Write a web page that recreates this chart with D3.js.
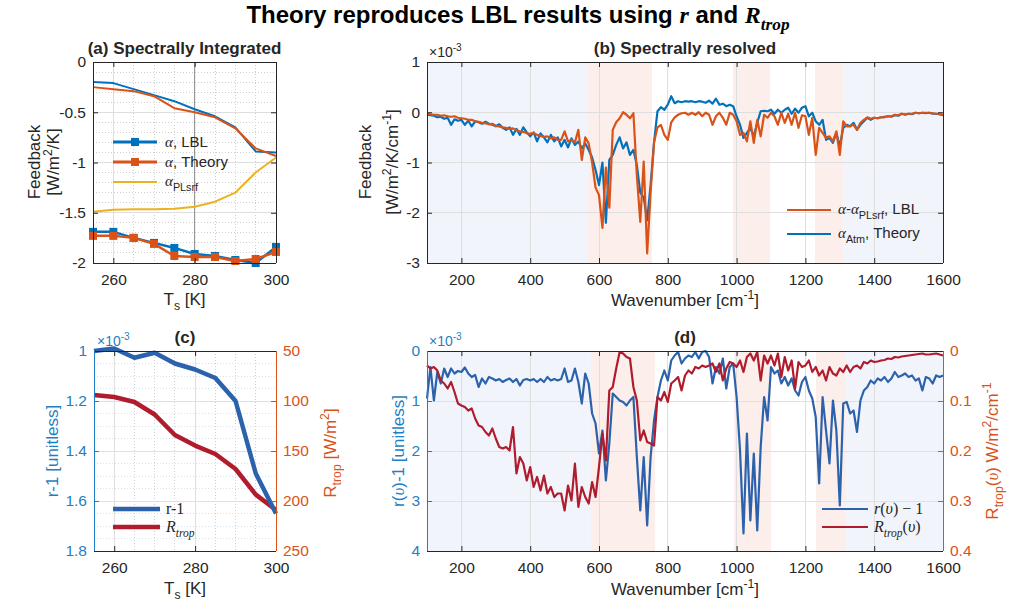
<!DOCTYPE html>
<html>
<head>
<meta charset="utf-8">
<script src="https://cdn.jsdelivr.net/npm/d3@7"></script>
<style>
body { margin: 0; background: #fff; }
svg { font-family: "Liberation Sans", Arial, Helvetica, sans-serif; }
</style>
</head>
<body>
<svg id="fig" width="1011" height="610"></svg>
<script>
// ---- panel (a)/(c): surface temperature sweep
const tsK = [255, 260, 265, 270, 275, 280, 285, 290, 295, 300];
const alphaLBL = [-1.69, -1.69, -1.75, -1.80, -1.85, -1.91, -1.93, -1.97, -2.00, -1.84];
const alphaTheory = [-1.73, -1.73, -1.75, -1.81, -1.93, -1.94, -1.94, -1.98, -1.96, -1.89];
const alphaAtmLBL = [-0.20, -0.21, -0.27, -0.33, -0.39, -0.47, -0.54, -0.65, -0.89, -0.90];
const alphaAtmTheory = [-0.25, -0.27, -0.29, -0.34, -0.46, -0.50, -0.55, -0.66, -0.86, -0.935];
const alphaPLsrf = [-1.49, -1.47, -1.465, -1.465, -1.46, -1.44, -1.39, -1.30, -1.10, -0.95];
const rMinus1 = [1.00, 0.99, 1.027, 1.007, 1.05, 1.074, 1.108, 1.20, 1.49, 1.65]; // x1e-3
const rTrop = [94, 96, 101, 113.5, 134, 144.6, 153, 168, 193.6, 209];           // W/m2

// ---- panel (b)/(d): spectrally resolved, 100..1600 cm-1 every 10
const wavenumber = d3.range(100, 1601, 10);
const specAtmTheory = [ // x1e-3 W/m2/K/cm-1
  -0.05, -0.06, -0.07, -0.10, -0.09, -0.13, -0.11, -0.25, -0.14, -0.17,
  -0.15, -0.25, -0.17, -0.28, -0.18, -0.20, -0.23, -0.19, -0.23, -0.25,
  -0.28, -0.24, -0.31, -0.35, -0.30, -0.45, -0.33, -0.45, -0.30, -0.40,
  -0.48, -0.40, -0.58, -0.42, -0.50, -0.60, -0.45, -0.58, -0.50, -0.68,
  -0.55, -0.70, -0.52, -0.65, -0.58, -0.72, -0.62, -0.75, -0.90, -1.15,
  -1.45, -1.00, -2.20, -0.95, -0.85, -0.65, -0.50, -0.72, -0.60, -0.85,
  -0.75, -1.05, -1.60, -1.70, -2.15, -1.45, -0.60, 0.02, 0.10, 0.05,
  0.15, 0.32, 0.18, 0.22, 0.20, 0.22, 0.21, 0.22, 0.20, 0.22,
  0.21, 0.19, 0.23, 0.17, 0.27, 0.15, 0.17, 0.12, 0.15, 0.12,
  -0.08, -0.25, -0.51, -0.41, -0.31, -0.48, -0.21, 0.02, 0.03, 0.02,
  0.05, -0.03, 0.05, -0.01, 0.05, 0.09, -0.03, 0.07, -0.01, 0.09,
  0.12, -0.08, -0.01, -0.18, -0.25, -0.15, -0.55, -0.51, -0.61, -0.41,
  -0.68, -0.31, -0.25, -0.28, -0.21, -0.35, -0.25, -0.18, -0.11, -0.15,
  -0.11, -0.12, -0.10, -0.09, -0.08, -0.09, -0.06, -0.07, -0.03, -0.05,
  -0.03, -0.04, -0.01, -0.02, -0.01, -0.02, -0.01, -0.03, -0.03, -0.04,
  -0.06
];
const specLBL = [ // alpha - alpha_PLsrf, x1e-3
  -0.03, -0.04, -0.05, -0.05, -0.07, -0.06, -0.08, -0.09, -0.08, -0.11,
  -0.12, -0.13, -0.15, -0.15, -0.18, -0.19, -0.21, -0.22, -0.24, -0.23,
  -0.27, -0.28, -0.30, -0.31, -0.33, -0.32, -0.36, -0.38, -0.39, -0.42,
  -0.43, -0.41, -0.45, -0.47, -0.49, -0.48, -0.52, -0.50, -0.55, -0.55,
  -0.38, -0.58, -0.55, -0.60, -0.35, -0.95, -0.50, -0.62, -1.00, -1.50,
  -1.65, -2.30, -1.10, -1.90, -0.35, -0.20, -0.12, 0.00, -0.05, -0.12,
  -0.02, -1.25, -2.18, -0.98, -2.81, -1.60, -0.60, -0.30, -0.25, -0.45,
  -0.55, -0.20, -0.10, -0.05, -0.02, -0.01, -0.05, -0.01, -0.05, 0.00,
  -0.08, -0.01, -0.05, -0.25, -0.08, -0.01, -0.11, -0.25, -0.01, -0.05,
  -0.18, -0.45, -0.41, -0.58, -0.18, -0.61, -0.15, -0.48, -0.05, -0.11,
  -0.01, -0.08, -0.25, -0.01, -0.21, -0.03, -0.25, -0.01, -0.31, -0.06,
  -0.08, -0.45, -0.11, -0.85, -0.31, -0.41, -0.51, -0.48, -0.58, -0.38,
  -0.85, -0.18, -0.28, -0.28, -0.25, -0.35, -0.21, -0.15, -0.10, -0.13,
  -0.11, -0.12, -0.10, -0.10, -0.08, -0.08, -0.05, -0.06, -0.03, -0.04,
  -0.03, -0.03, -0.01, -0.02, -0.01, -0.01, -0.01, -0.02, -0.03, -0.04,
  -0.05
];
const specR = [ // r(v)-1, x1e-3
  0.95, 0.32, 0.99, 0.42, 0.65, 0.35, 0.52, 0.35, 0.45, 0.40,
  0.42, 0.33, 0.45, 0.52, 0.48, 0.72, 0.55, 0.65, 0.52, 0.55,
  0.59, 0.56, 0.62, 0.58, 0.55, 0.62, 0.56, 0.69, 0.58, 0.56,
  0.59, 0.56, 0.62, 0.56, 0.62, 0.52, 0.59, 0.56, 0.59, 0.56,
  0.35, 0.62, 0.59, 0.35, 0.62, 1.05, 0.45, 0.65, 1.25, 1.45,
  2.05, 1.59, 2.59, 1.85, 0.85, 0.92, 0.99, 1.02, 1.09, 0.99,
  0.92, 2.12, 3.19, 2.12, 3.49, 2.12, 1.39, 0.92, 0.59, 0.39,
  0.59, 0.19, 0.09, 0.02, 0.25, 0.15, 0.09, 0.12, 0.02, 0.15,
  0.02, 0.00, 0.12, 0.65, 0.32, 0.45, 0.15, 0.75, 0.32, 0.25,
  0.92, 1.99, 3.65, 1.65, 3.39, 2.05, 3.59, 1.92, 0.92, 1.39,
  0.32, 0.45, 0.39, 0.65, 0.52, 0.69, 0.55, 0.79, 0.89, 0.62,
  0.52, 0.79, 0.95, 1.32, 2.65, 0.92, 1.59, 2.25, 0.99, 1.59,
  3.09, 1.05, 1.02, 1.25, 1.19, 1.62, 0.99, 0.79, 0.72, 0.59,
  0.65, 0.55, 0.59, 0.52, 0.62, 0.55, 0.42, 0.52, 0.49, 0.45,
  0.52, 0.49, 0.59, 0.55, 0.79, 0.52, 0.55, 0.65, 0.49, 0.52,
  0.49
];
const specRtrop = [ // W/m2/cm-1
  0.029, 0.035, 0.032, 0.039, 0.059, 0.065, 0.075, 0.062, 0.082, 0.105,
  0.109, 0.112, 0.119, 0.115, 0.135, 0.149, 0.152, 0.162, 0.169, 0.155,
  0.175, 0.192, 0.195, 0.192, 0.199, 0.152, 0.245, 0.212, 0.225, 0.259,
  0.232, 0.272, 0.252, 0.279, 0.249, 0.285, 0.272, 0.292, 0.285, 0.285,
  0.319, 0.269, 0.299, 0.225, 0.312, 0.272, 0.292, 0.305, 0.262, 0.292,
  0.232, 0.165, 0.219, 0.079, 0.072, 0.035, 0.002, 0.005, 0.012, 0.015,
  0.072, 0.099, 0.179, 0.159, 0.182, 0.185, 0.189, 0.092, 0.099, 0.082,
  0.102, 0.065, 0.059, 0.052, 0.079, 0.049, 0.039, 0.045, 0.032, 0.035,
  0.029, 0.032, 0.029, 0.025, 0.042, 0.025, 0.059, 0.035, 0.022, 0.025,
  0.032, 0.019, 0.042, 0.012, 0.005, 0.019, 0.002, 0.059, 0.009, 0.025,
  0.009, 0.029, 0.005, 0.052, 0.012, 0.039, 0.019, 0.075, 0.022, 0.032,
  0.029, 0.019, 0.042, 0.032, 0.049, 0.039, 0.059, 0.032, 0.045, 0.049,
  0.035, 0.042, 0.029, 0.042, 0.032, 0.029, 0.035, 0.022, 0.025, 0.019,
  0.022, 0.021, 0.019, 0.018, 0.015, 0.016, 0.012, 0.013, 0.011, 0.010,
  0.009, 0.008, 0.007, 0.006, 0.005, 0.007, 0.007, 0.006, 0.005, 0.007,
  0.009
];
// shaded spectral bands [from, to, kind]
const bandsB = [[100, 568, 'win'], [568, 754, 'abs'], [990, 1097, 'abs'], [1228, 1309, 'abs'], [1309, 1600, 'win']];
const bandsD = [[100, 577, 'win'], [577, 763, 'abs'], [993, 1100, 'abs'], [1231, 1318, 'abs'], [1318, 1600, 'win']];

const FONT = '"Liberation Sans", Arial, Helvetica, sans-serif';
const SERIF = '"Liberation Serif", "Times New Roman", serif';
const AX = '#262626';
const GRID = '#dedede';
const MINOR = '#cfcfcf';
const BGRID = '#d3e3f0';
const BLUE = '#0072BD', ORANGE = '#D95319', YELLOW = '#EDB120';
const DBLUE = '#2b62ab', DRED = '#b01c2e';
const LBLUE = '#1f7fc4';
const SHADE = {win: '#f1f5fb', abs: '#fbeeeb'};

const svg = d3.select('#fig');

function rich(text, parts, size)
{
    let shift = 0;
    parts.forEach(p => {
        if (typeof p === 'string') p = {t: p};
        const target = p.sub ? size * 0.3 : p.sup ? -size * 0.42 : 0;
        const ts = text.append('tspan').text(p.t).attr('dy', target - shift);
        shift = target;
        if (p.sub || p.sup) ts.attr('font-size', size * 0.72);
        if (p.m) ts.attr('font-family', SERIF).attr('font-style', 'italic');
        if (p.s) ts.attr('font-family', SERIF);
    });
}

function label(x, y, parts, opt = {})
{
    const size = opt.size || 15;
    const t = svg.append('text').attr('x', x).attr('y', y)
        .attr('font-size', size).attr('fill', opt.color || AX)
        .attr('text-anchor', opt.anchor || 'start')
        .attr('font-weight', opt.bold ? 'bold' : null);
    if (opt.rotate) t.attr('transform', `rotate(-90,${x},${y})`);
    rich(t, parts, size);
    return t;
}

function makeAxes(box)
{
    const g = svg.append('g').attr('transform', `translate(${box.x0},${box.y0})`);
    return {g, w: box.x1 - box.x0, h: box.y1 - box.y0};
}

function grid(g, vals, scale, w, h, vertical, color, dash)
{
    g.append('g').selectAll('line').data(vals).join('line')
        .attr('x1', d => vertical ? scale(d) : 0)
        .attr('x2', d => vertical ? scale(d) : w)
        .attr('y1', d => vertical ? 0 : scale(d))
        .attr('y2', d => vertical ? h : scale(d))
        .attr('stroke', color).attr('stroke-width', 1)
        .attr('stroke-dasharray', dash || null)
        .attr('shape-rendering', 'crispEdges');
}

function styleAxis(a, color)
{
    a.select('.domain').remove();
    a.attr('font-family', FONT).attr('font-size', 15.5);
    a.selectAll('line').attr('stroke', color);
    a.selectAll('text').attr('fill', color);
}

function xAxes(g, x, h, ticks)
{
    g.append('g').attr('transform', `translate(0,${h})`)
        .call(d3.axisBottom(x).tickValues(ticks).tickSize(-5).tickPadding(11).tickFormat(d => String(d)))
        .call(a => styleAxis(a, AX));
    g.append('g')
        .call(d3.axisTop(x).tickValues(ticks).tickSize(-5).tickFormat(''))
        .call(a => styleAxis(a, AX));
}

function yAxis(g, y, w, ticks, color, side, labels = true)
{
    const left = side === 'left';
    const ax = (left ? d3.axisLeft(y) : d3.axisRight(y))
        .tickValues(ticks).tickSize(-5).tickPadding(7)
        .tickFormat(labels ? (d => String(d)) : '');
    g.append('g').attr('transform', `translate(${left ? 0 : w},0)`)
        .call(ax).call(a => styleAxis(a, color));
}

function frame(g, w, h, leftColor, rightColor)
{
    const seg = (x1, y1, x2, y2, c) => g.append('line')
        .attr('x1', x1).attr('y1', y1).attr('x2', x2).attr('y2', y2)
        .attr('stroke', c).attr('stroke-width', 1).attr('shape-rendering', 'crispEdges');
    seg(0, 0, w, 0, AX);
    seg(0, h, w, h, AX);
    seg(0, 0, 0, h, leftColor);
    seg(w, 0, w, h, rightColor);
}

function plotLine(g, xs, ys, x, y, color, width)
{
    g.append('path')
        .datum(ys)
        .attr('fill', 'none')
        .attr('stroke', color)
        .attr('stroke-width', width)
        .attr('stroke-linejoin', 'round')
        .attr('d', d3.line().x((d, i) => x(xs[i])).y(d => y(d)));
}

function legendLine(x1, x2, yy, color, width)
{
    svg.append('line').attr('x1', x1).attr('x2', x2).attr('y1', yy).attr('y2', yy)
        .attr('stroke', color).attr('stroke-width', width);
}

function minorTicks(lo, hi, step, isMajor)
{
    const n = Math.round((hi - lo) / step);
    return d3.range(1, n).map(i => +(lo + i * step).toFixed(4)).filter(v => !isMajor(v));
}

// ------------------------------------------------------------------
function drawPanelA()
{
    const {g, w, h} = makeAxes({x0: 93, x1: 276, y0: 62, y1: 263});
    const x = d3.scaleLinear().domain([255, 300]).range([0, w]);
    const y = d3.scaleLinear().domain([-2, 0]).range([h, 0]);

    grid(g, minorTicks(255, 300, 5, v => v % 20 === 0), x, w, h, true, MINOR, '1,2');
    grid(g, minorTicks(-2, 0, 0.1, v => Math.abs(v * 2 - Math.round(v * 2)) < 1e-6), y, w, h, false, MINOR, '1,2');
    grid(g, [260, 280], x, w, h, true, GRID);
    grid(g, [-0.5, -1, -1.5], y, w, h, false, GRID);
    // reference line at 280 K
    g.append('line').attr('x1', x(280)).attr('x2', x(280)).attr('y1', 0).attr('y2', h)
        .attr('stroke', '#8a8a8a').attr('stroke-width', 1);

    plotLine(g, tsK, alphaPLsrf, x, y, YELLOW, 2);
    plotLine(g, tsK, alphaAtmLBL, x, y, BLUE, 2);
    plotLine(g, tsK, alphaAtmTheory, x, y, ORANGE, 2);
    [[alphaLBL, BLUE], [alphaTheory, ORANGE]].forEach(([vals, c]) => {
        plotLine(g, tsK, vals, x, y, c, 2.5);
        g.append('g').selectAll('rect').data(vals).join('rect')
            .attr('x', (d, i) => x(tsK[i]) - 4).attr('y', d => y(d) - 4)
            .attr('width', 8).attr('height', 8).attr('fill', c);
    });

    xAxes(g, x, h, [260, 280, 300]);
    yAxis(g, y, w, [-2, -1.5, -1, -0.5, 0], AX, 'left');
    yAxis(g, y, w, [-2, -1.5, -1, -0.5, 0], AX, 'right', false);
    frame(g, w, h, AX, AX);

    // legend
    legendLine(113, 157, 142, BLUE, 3);
    svg.append('rect').attr('x', 131).attr('y', 138).attr('width', 8).attr('height', 8).attr('fill', BLUE);
    legendLine(113, 157, 162, ORANGE, 3);
    svg.append('rect').attr('x', 131).attr('y', 158).attr('width', 8).attr('height', 8).attr('fill', ORANGE);
    legendLine(113, 157, 182, YELLOW, 2);
    label(165, 147, [{t: 'α', m: true}, ', LBL'], {size: 15});
    label(165, 167, [{t: 'α', m: true}, ', Theory'], {size: 15});
    label(165, 186, [{t: 'α', m: true}, {t: 'PLsrf', sub: true}], {size: 15});

    label(184.5, 54, ['(a) Spectrally Integrated'], {size: 17, bold: true, anchor: 'middle'});
    label(40, 162, ['Feedback'], {size: 17, anchor: 'middle', rotate: true});
    label(59, 162, ['[W/m', {t: '2', sup: true}, '/K]'], {size: 17, anchor: 'middle', rotate: true});
    label(184.5, 305, ['T', {t: 's', sub: true}, ' [K]'], {size: 17, anchor: 'middle'});
}

function drawPanelB()
{
    const {g, w, h} = makeAxes({x0: 427, x1: 943, y0: 62, y1: 263});
    const x = d3.scaleLinear().domain([100, 1600]).range([0, w]);
    const y = d3.scaleLinear().domain([-3, 1]).range([h, 0]);

    bandsB.forEach(([a, b, k]) => g.append('rect').attr('x', x(a)).attr('width', x(b) - x(a))
        .attr('y', 0).attr('height', h).attr('fill', SHADE[k]));
    grid(g, [200, 400, 600, 800, 1000, 1200, 1400], x, w, h, true, GRID);
    grid(g, [-2, -1, 0], y, w, h, false, GRID);

    plotLine(g, wavenumber, specAtmTheory, x, y, BLUE, 2.2);
    plotLine(g, wavenumber, specLBL, x, y, ORANGE, 2.2);

    xAxes(g, x, h, [200, 400, 600, 800, 1000, 1200, 1400, 1600]);
    yAxis(g, y, w, [-3, -2, -1, 0, 1], AX, 'left');
    yAxis(g, y, w, [-3, -2, -1, 0, 1], AX, 'right', false);
    frame(g, w, h, AX, AX);

    label(429, 57, ['×10', {t: '-3', sup: true}], {size: 14});
    legendLine(787, 831, 210, ORANGE, 2.2);
    legendLine(787, 831, 234, BLUE, 2.2);
    label(838, 214, [{t: 'α', m: true}, '-', {t: 'α', m: true}, {t: 'PLsrf', sub: true}, ', LBL'], {size: 15});
    label(838, 238, [{t: 'α', m: true}, {t: 'Atm', sub: true}, ', Theory'], {size: 15});

    label(685, 54, ['(b) Spectrally resolved'], {size: 17, bold: true, anchor: 'middle'});
    label(371, 162, ['Feedback'], {size: 17, anchor: 'middle', rotate: true});
    label(398, 162, ['[W/m', {t: '2', sup: true}, '/K/cm', {t: '-1', sup: true}, ']'], {size: 17, anchor: 'middle', rotate: true});
    label(685, 306, ['Wavenumber [cm', {t: '-1', sup: true}, ']'], {size: 17, anchor: 'middle'});
}

function drawPanelC()
{
    const {g, w, h} = makeAxes({x0: 94, x1: 276, y0: 351, y1: 551});
    const x = d3.scaleLinear().domain([255, 300]).range([0, w]);
    const yl = d3.scaleLinear().domain([1, 1.8]).range([0, h]);
    const yr = d3.scaleLinear().domain([50, 250]).range([0, h]);

    grid(g, minorTicks(255, 300, 5, v => v % 20 === 0), x, w, h, true, MINOR, '1,2');
    grid(g, minorTicks(1, 1.8, 0.05, v => Math.abs(v * 5 - Math.round(v * 5)) < 1e-6), yl, w, h, false, BGRID, '1,2');
    grid(g, [260, 280], x, w, h, true, GRID);
    grid(g, [1.2, 1.4, 1.6], yl, w, h, false, BGRID);

    plotLine(g, tsK, rTrop, x, yr, DRED, 4.5);
    plotLine(g, tsK, rMinus1, x, yl, DBLUE, 4.5);

    xAxes(g, x, h, [260, 280, 300]);
    yAxis(g, yl, w, [1, 1.2, 1.4, 1.6, 1.8], LBLUE, 'left');
    yAxis(g, yr, w, [50, 100, 150, 200, 250], ORANGE, 'right');
    frame(g, w, h, LBLUE, ORANGE);

    label(97, 346, ['×10', {t: '-3', sup: true}], {size: 14, color: LBLUE});
    legendLine(113, 160, 509, DBLUE, 4.5);
    legendLine(113, 160, 527, DRED, 4.5);
    label(166, 514, [{t: 'r-1', s: true}], {size: 16});
    label(166, 532, [{t: 'R', m: true}, {t: 'trop', sub: true, m: true}], {size: 16});

    label(185, 343, ['(c)'], {size: 17, bold: true, anchor: 'middle'});
    label(58, 451, ['r-1 [unitless]'], {size: 17, anchor: 'middle', rotate: true, color: LBLUE});
    label(336, 453, ['R', {t: 'trop', sub: true}, ' [W/m', {t: '2', sup: true}, ']'], {size: 17, anchor: 'middle', rotate: true, color: ORANGE});
    label(185, 594, ['T', {t: 's', sub: true}, ' [K]'], {size: 17, anchor: 'middle'});
}

function drawPanelD()
{
    const {g, w, h} = makeAxes({x0: 427, x1: 943, y0: 351, y1: 551});
    const x = d3.scaleLinear().domain([100, 1600]).range([0, w]);
    const yl = d3.scaleLinear().domain([0, 4]).range([0, h]);
    const yr = d3.scaleLinear().domain([0, 0.4]).range([0, h]);

    bandsD.forEach(([a, b, k]) => g.append('rect').attr('x', x(a)).attr('width', x(b) - x(a))
        .attr('y', 0).attr('height', h).attr('fill', SHADE[k]));
    grid(g, [200, 400, 600, 800, 1000, 1200, 1400], x, w, h, true, GRID);
    grid(g, [1, 2, 3], yl, w, h, false, BGRID);

    plotLine(g, wavenumber, specR, x, yl, DBLUE, 2.2);
    plotLine(g, wavenumber, specRtrop, x, yr, DRED, 2.2);

    xAxes(g, x, h, [200, 400, 600, 800, 1000, 1200, 1400, 1600]);
    yAxis(g, yl, w, [0, 1, 2, 3, 4], LBLUE, 'left');
    yAxis(g, yr, w, [0, 0.1, 0.2, 0.3, 0.4], ORANGE, 'right');
    frame(g, w, h, LBLUE, ORANGE);

    label(429, 346, ['×10', {t: '-3', sup: true}], {size: 14, color: LBLUE});
    legendLine(822, 868, 509, DBLUE, 2.2);
    legendLine(822, 868, 527, DRED, 2.2);
    label(874, 514, [{t: 'r', m: true}, {t: '(', s: true}, {t: 'υ', m: true}, {t: ') − 1', s: true}], {size: 16});
    label(874, 532, [{t: 'R', m: true}, {t: 'trop', sub: true, m: true}, {t: '(', s: true}, {t: 'υ', m: true}, {t: ')', s: true}], {size: 16});

    label(685, 343, ['(d)'], {size: 17, bold: true, anchor: 'middle'});
    label(404, 451, ['r(', {t: 'υ', m: true}, ')-1 [unitless]'], {size: 17, anchor: 'middle', rotate: true, color: LBLUE});
    label(998, 451, ['R', {t: 'trop', sub: true}, '(', {t: 'υ', m: true}, ') W/m', {t: '2', sup: true}, '/cm', {t: '-1', sup: true}],
        {size: 17, anchor: 'middle', rotate: true, color: ORANGE});
    label(685, 595, ['Wavenumber [cm', {t: '-1', sup: true}, ']'], {size: 17, anchor: 'middle'});
}

drawPanelA();
drawPanelB();
drawPanelC();
drawPanelD();

// figure title
const title = svg.append('text').attr('x', 518).attr('y', 23)
    .attr('text-anchor', 'middle').attr('font-size', 24).attr('font-weight', 'bold').attr('fill', '#000');
rich(title, ['Theory reproduces LBL results using ', {t: 'r', m: true}, ' and ', {t: 'R', m: true}, {t: 'trop', m: true, sub: true}], 24);
</script>
</body>
</html>
